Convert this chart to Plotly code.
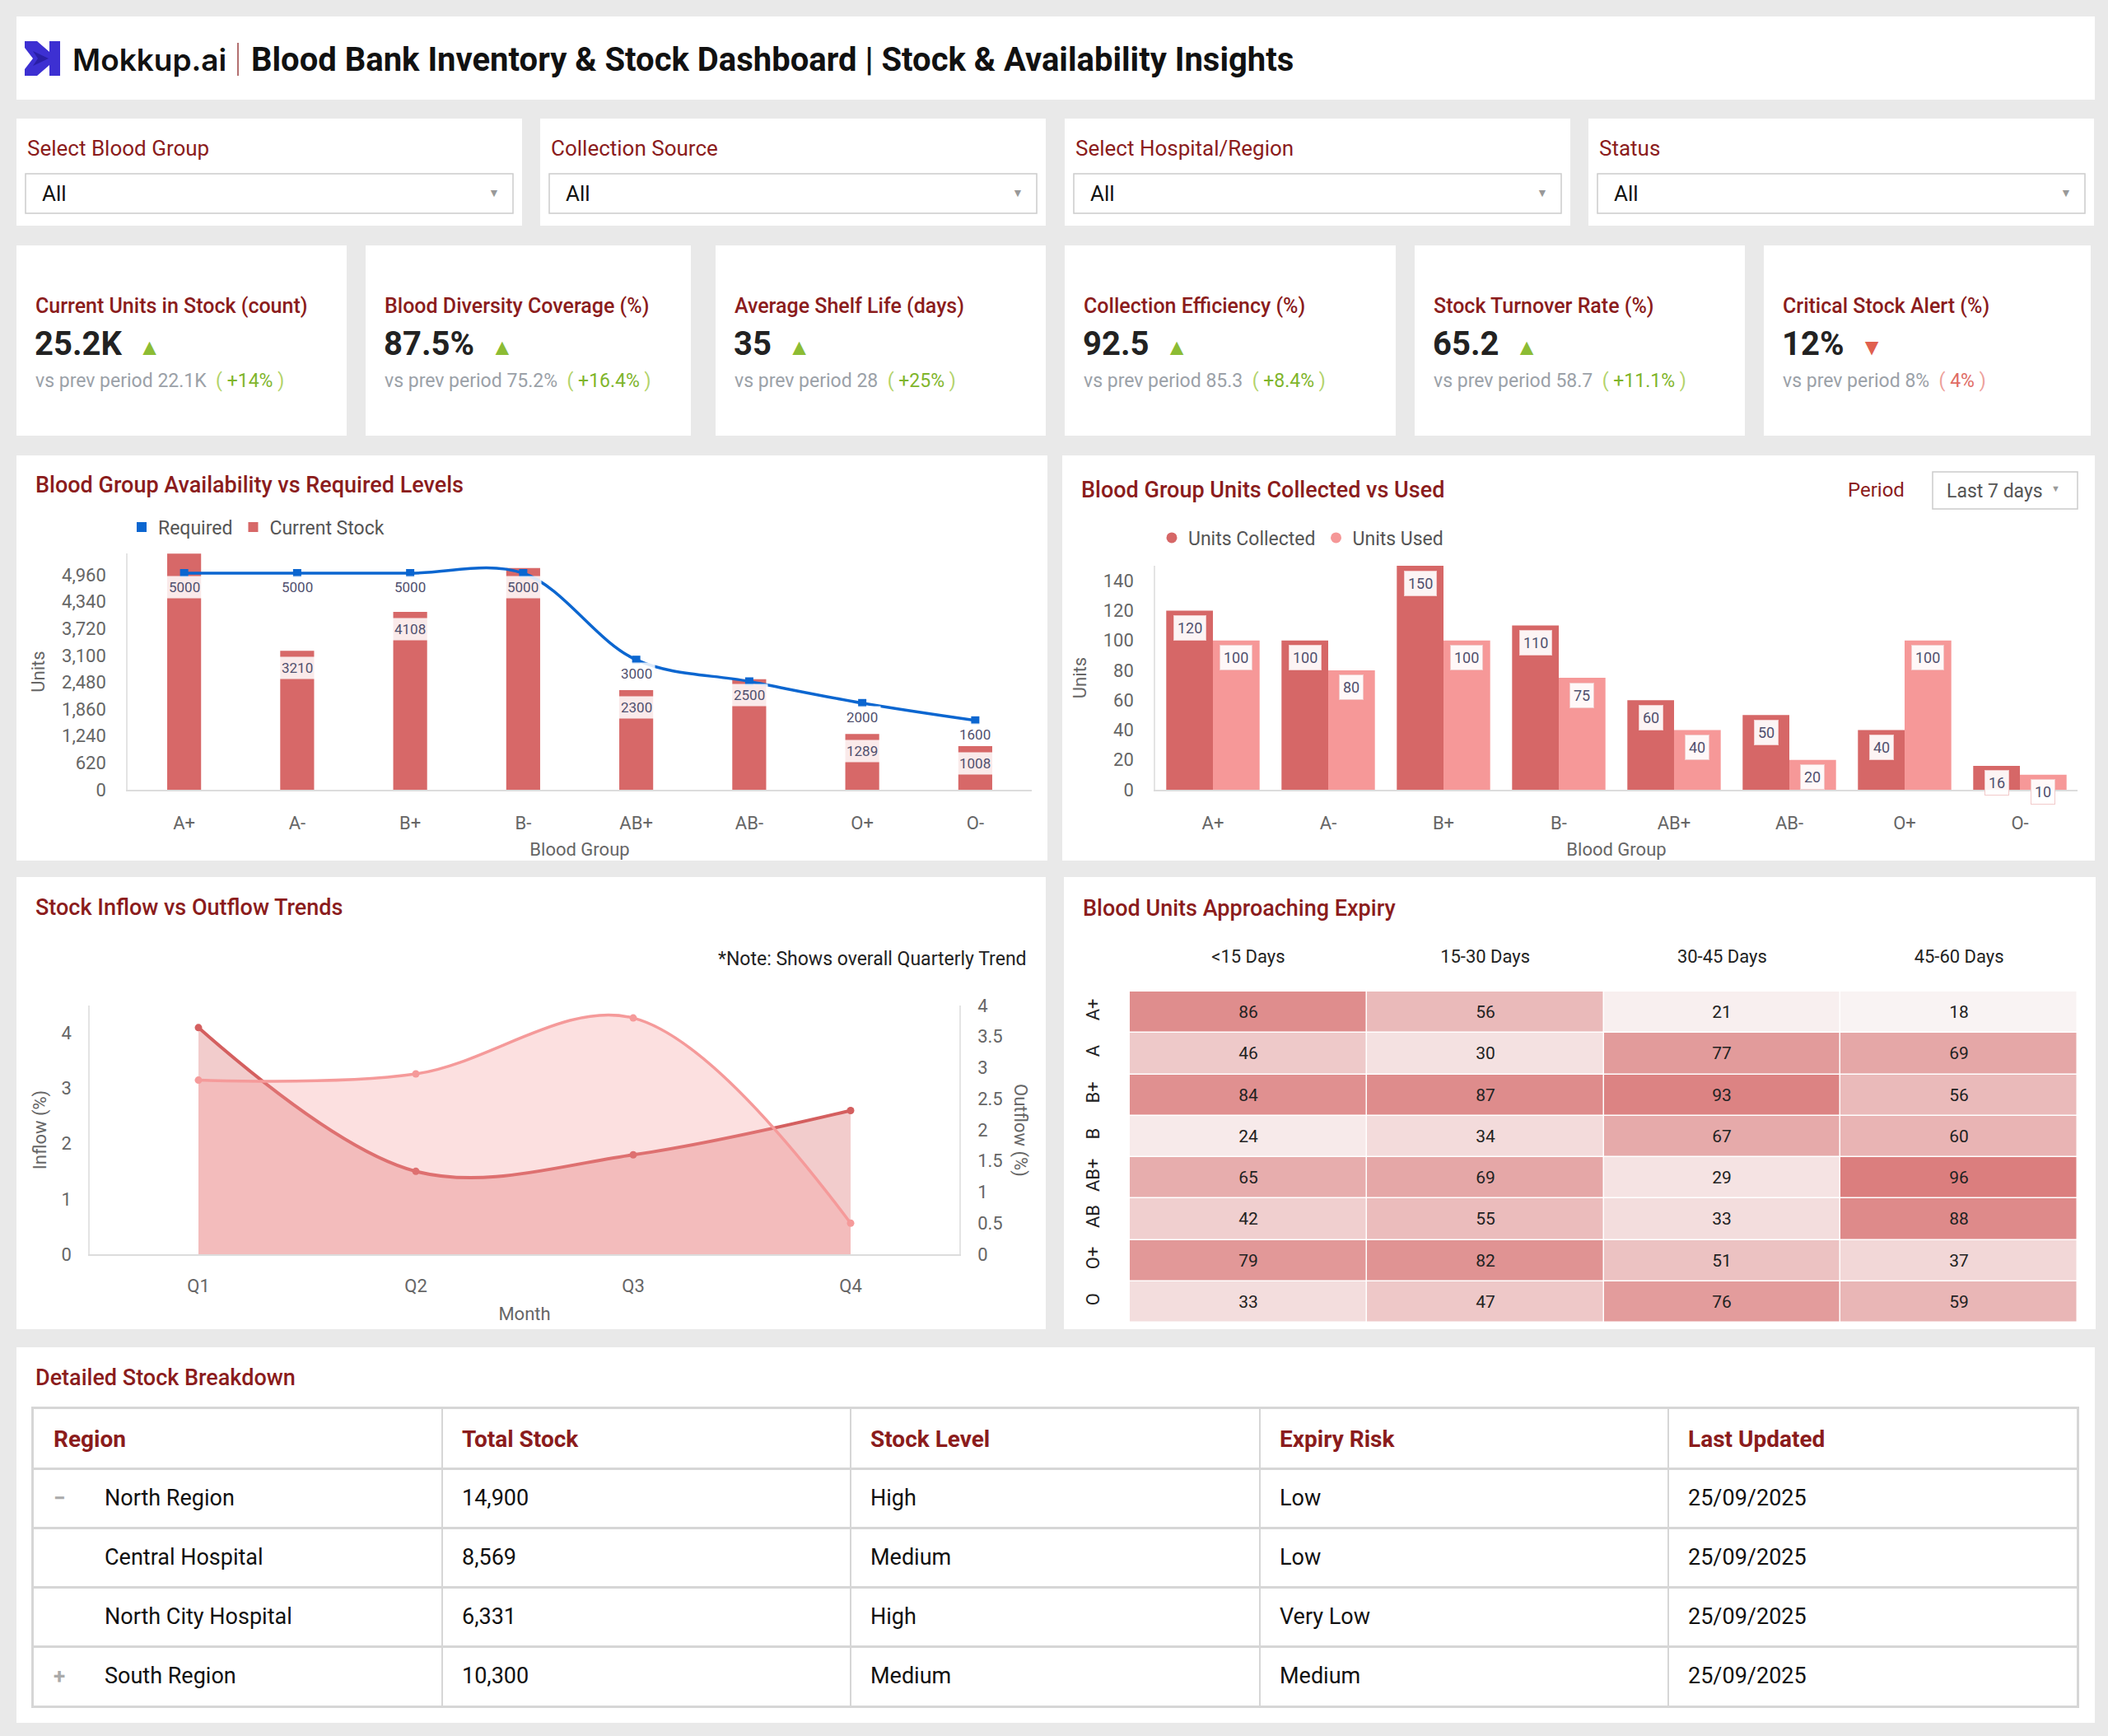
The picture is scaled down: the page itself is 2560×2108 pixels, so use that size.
import plotly.graph_objects as go

W, H = 2560, 2108
FONT = "Roboto"
RED_T = "#8b1c1c"
BG = "#e9e9e9"

# ---------------- data ----------------
filter_labels = ["Select Blood Group", "Collection Source", "Select Hospital/Region", "Status"]
filter_values = ["All", "All", "All", "All"]

kpi_titles = ["Current Units in Stock (count)", "Blood Diversity Coverage (%)", "Average Shelf Life (days)",
              "Collection Efficiency (%)", "Stock Turnover Rate (%)", "Critical Stock Alert (%)"]
kpi_values = ["25.2K", "87.5%", "35", "92.5", "65.2", "12%"]
kpi_dirs = ["up", "up", "up", "up", "up", "down"]
kpi_prev = ["22.1K", "75.2%", "28", "85.3", "58.7", "8%"]
kpi_change = ["+14%", "+16.4%", "+25%", "+8.4%", "+11.1%", "4%"]

blood_groups = ["A+", "A-", "B+", "B-", "AB+", "AB-", "O+", "O-"]
current_stock = [5450, 3210, 4108, 5120, 2300, 2550, 1289, 1008]
required_levels = [5000, 5000, 5000, 5000, 3000, 2500, 2000, 1600]

units_collected = [120, 100, 150, 110, 60, 50, 40, 16]
units_used = [100, 80, 100, 75, 40, 20, 100, 10]

quarters = ["Q1", "Q2", "Q3", "Q4"]
inflow = [4.1, 1.5, 1.8, 2.6]
outflow = [2.8, 2.9, 3.8, 0.5]

expiry_cols = ["<15 Days", "15-30 Days", "30-45 Days", "45-60 Days"]
expiry_rows = ["A+", "A", "B+", "B", "AB+", "AB", "O+", "O"]
expiry_units = [
    [86, 56, 21, 18],
    [46, 30, 77, 69],
    [84, 87, 93, 56],
    [24, 34, 67, 60],
    [65, 69, 29, 96],
    [42, 55, 33, 88],
    [79, 82, 51, 37],
    [33, 47, 76, 59],
]

table_cols = ["Region", "Total Stock", "Stock Level", "Expiry Risk", "Last Updated"]
regions = ["North Region", "Central Hospital", "North City Hospital", "South Region"]
region_toggle = ["−", "", "", "+"]
total_stock = [14900, 8569, 6331, 10300]
stock_level = ["High", "Medium", "High", "Medium"]
expiry_risk = ["Low", "Low", "Very Low", "Medium"]
last_updated = ["25/09/2025", "25/09/2025", "25/09/2025", "25/09/2025"]


# ---------------- helpers ----------------
def X(px):
    return px / W


def Y(py):
    return 1 - py / H


shapes, annotations = [], []


def card(x0, y0, x1, y1, fill="white", line=None):
    shapes.append(dict(type="rect", xref="paper", yref="paper", x0=X(x0), x1=X(x1), y0=Y(y1), y1=Y(y0),
                       fillcolor=fill, line=line or dict(width=0), layer="below"))


def text(x, y, s, size=22, color="#222", xanchor="left", weight=None, family=FONT, **kw):
    f = dict(size=size, color=color, family=family)
    if weight:
        f["weight"] = weight
    annotations.append(dict(xref="paper", yref="paper", x=X(x), y=Y(y), text=s, showarrow=False,
                            xanchor=xanchor, yanchor="middle", font=f, **kw))


def path(points):
    return "M" + " L".join(f"{X(px):.5f},{Y(py):.5f}" for px, py in points) + " Z"


# ---------------- header ----------------
card(20, 20, 2544, 121)
shapes.append(dict(type="path", xref="paper", yref="paper",
                   path=path([(30, 50), (45, 50), (60, 63), (60, 50), (73, 50), (73, 92), (60, 92), (60, 79),
                              (45, 92), (30, 92), (30, 84), (40, 71), (30, 58)]),
                   fillcolor="#3d30d2", line=dict(width=0)))
shapes.append(dict(type="path", xref="paper", yref="paper",
                   path=path([(40, 62), (59, 71), (40, 80), (46, 71)]),
                   fillcolor="#2a1fa6", line=dict(width=0)))
text(86, 72, "Mokkup.ai", 37, "#111", weight=600, family="Inter")
shapes.append(dict(type="line", xref="paper", yref="paper", x0=X(289), x1=X(289), y0=Y(52), y1=Y(92),
                   line=dict(color="#9a4040", width=1.5)))
text(303, 72, "Blood Bank Inventory & Stock Dashboard | Stock & Availability Insights", 40, "#111", weight=700)

# ---------------- filters ----------------
filter_x = [(20, 634), (656, 1270), (1293, 1907), (1929, 2543)]
for (x0, x1), lab, val in zip(filter_x, filter_labels, filter_values):
    card(x0, 144, x1, 274)
    text(x0 + 11, 180, lab, 26, RED_T)
    shapes.append(dict(type="rect", xref="paper", yref="paper", x0=X(x0 + 11), x1=X(x1 - 11), y0=Y(259), y1=Y(211),
                       fillcolor="white", line=dict(color="#cccccc", width=1.5)))
    text(x0 + 29, 235, val, 26, "#111")
    text(x1 - 34, 234, "▼", 14, "#999", xanchor="center")

# ---------------- KPI cards ----------------
kpi_x = [(20, 421), (444, 839), (869, 1270), (1293, 1695), (1718, 2119), (2142, 2539)]
for (x0, x1), t, v, d, p, c in zip(kpi_x, kpi_titles, kpi_values, kpi_dirs, kpi_prev, kpi_change):
    card(x0, 298, x1, 529)
    text(x0 + 21, 371, t, 25, RED_T, weight=500)
    if d == "up":
        arrow = "<span style='color:#8cbc34;font-size:28px'>▲</span>"
        col, light = "#7fb52c", "#b3d36a"
    else:
        arrow = "<span style='color:#e0604f;font-size:28px'>▼</span>"
        col, light = "#e06b64", "#eda19b"
    text(x0 + 20, 418, f"<b>{v}</b>&nbsp;&nbsp;{arrow}", 40, "#222")
    text(x0 + 21, 463,
         f"vs prev period {p} &nbsp;<span style='color:{light}'>(</span> <span style='color:{col}'>{c}</span> "
         f"<span style='color:{light}'>)</span>", 23, "#9ba1a8")

# ---------------- chart cards ----------------
card(20, 553, 1272, 1045)
card(1290, 553, 2544, 1045)
card(20, 1065, 1270, 1614)
card(1292, 1065, 2545, 1614)
card(20, 1636, 2544, 2092)

text(41, 589, "Blood Group Availability vs Required Levels", 27, RED_T, weight=500)
text(1311, 595, "Blood Group Units Collected vs Used", 27, RED_T, weight=500)
text(41, 1102, "Stock Inflow vs Outflow Trends", 27, RED_T, weight=500)
text(1313, 1103, "Blood Units Approaching Expiry", 27, RED_T, weight=500)
text(41, 1673, "Detailed Stock Breakdown", 27, RED_T, weight=500)

# period selector
text(2315, 595, "Period", 24, RED_T, xanchor="right")
shapes.append(dict(type="rect", xref="paper", yref="paper", x0=X(2347), x1=X(2523), y0=Y(618), y1=Y(573),
                   fillcolor="white", line=dict(color="#cccccc", width=1.5)))
text(2362, 596, "Last 7 days", 23, "#555")
text(2496, 594, "▼", 11, "#999", xanchor="center")

# note
text(1249, 1164, "*Note: Shows overall Quarterly Trend", 23, "#222", xanchor="right")

fig = go.Figure()

tickfont = dict(size=22, color="#666", family=FONT)
titlefont = dict(size=22, color="#666", family=FONT)

# ---------------- chart 1 ----------------
fig.add_trace(go.Scatter(x=[None], y=[None], mode="markers", name="Required",
                         marker=dict(symbol="square", size=12, color="#0b66d0"),
                         xaxis="x", yaxis="y", legend="legend"))
fig.add_trace(go.Bar(x=blood_groups, y=current_stock, name="Current Stock", width=0.3,
                     marker=dict(color="#d76868", line=dict(width=0)), xaxis="x", yaxis="y", legend="legend"))
fig.add_trace(go.Scatter(x=blood_groups, y=required_levels, mode="lines+markers", showlegend=False,
                         line=dict(color="#0b66d0", width=3.5, shape="spline", smoothing=1),
                         marker=dict(symbol="square", size=10, color="#0b66d0"), xaxis="x", yaxis="y"))

Y1_MAX = 5456
k1 = (959 - 672) / Y1_MAX  # px per unit
lab_bg = "rgba(255,255,255,0.86)"
for g, s, r in zip(blood_groups, current_stock, required_levels):
    annotations.append(dict(xref="x", yref="y", x=g, y=r, yshift=-17, text=str(r), showarrow=False,
                            font=dict(size=17, color="#50506e", family=FONT), bgcolor=lab_bg, borderpad=3))
    if abs((s - r) * k1 - 5) >= 27:
        annotations.append(dict(xref="x", yref="y", x=g, y=s, yshift=-21, text=str(s), showarrow=False,
                                font=dict(size=17, color="#50506e", family=FONT), bgcolor=lab_bg, borderpad=3))

# ---------------- chart 2 ----------------
fig.add_trace(go.Scatter(x=[None], y=[None], mode="markers", name="Units Collected",
                         marker=dict(symbol="circle", size=13, color="#d66767"),
                         xaxis="x2", yaxis="y2", legend="legend2"))
fig.add_trace(go.Scatter(x=[None], y=[None], mode="markers", name="Units Used",
                         marker=dict(symbol="circle", size=13, color="#f59797"),
                         xaxis="x2", yaxis="y2", legend="legend2"))
fig.add_trace(go.Bar(x=blood_groups, y=units_collected, name="Units Collected", showlegend=False,
                     marker=dict(color="#d66767", line=dict(width=0)), xaxis="x2", yaxis="y2",
                     offsetgroup="c"))
fig.add_trace(go.Bar(x=blood_groups, y=units_used, name="Units Used", showlegend=False,
                     marker=dict(color="#f69898", line=dict(width=0)), xaxis="x2", yaxis="y2",
                     offsetgroup="u"))
for g, c, u in zip(blood_groups, units_collected, units_used):
    for v, sh in ((c, -28), (u, 28)):
        annotations.append(dict(xref="x2", yref="y2", x=g, y=v, xshift=sh, yshift=-21, text=str(v),
                                showarrow=False, font=dict(size=18, color="#50506e", family=FONT),
                                bgcolor="rgba(255,255,255,0.93)", bordercolor="#f2caca", borderwidth=1,
                                borderpad=4))

# ---------------- chart 3 ----------------
fig.add_trace(go.Scatter(x=quarters, y=inflow, name="Inflow", showlegend=False, mode="lines+markers",
                         fill="tozeroy", fillcolor="rgba(214,96,96,0.32)",
                         line=dict(color="#d45f5f", width=4, shape="spline", smoothing=1),
                         marker=dict(size=9, color="#d45f5f"), xaxis="x3", yaxis="y3"))
fig.add_trace(go.Scatter(x=quarters, y=outflow, name="Outflow", showlegend=False, mode="lines+markers",
                         fill="tozeroy", fillcolor="rgba(245,151,151,0.30)",
                         line=dict(color="#f59a9a", width=3.5, shape="spline", smoothing=1),
                         marker=dict(size=9, color="#f59a9a"), xaxis="x3", yaxis="y4"))
annotations.append(dict(xref="paper", yref="paper", x=X(1239), y=Y(1372), text="Outflow (%)", textangle=90,
                        showarrow=False, xanchor="center", yanchor="middle", font=titlefont))

# ---------------- chart 4 (heatmap) ----------------
fig.add_trace(go.Heatmap(z=expiry_units, x=expiry_cols, y=expiry_rows, xaxis="x5", yaxis="y5",
                         colorscale=[[0, "#f9f3f3"], [1, "#db7e7e"]], zmin=18, zmax=96, showscale=False,
                         xgap=1.5, ygap=1.5, texttemplate="%{z}",
                         textfont=dict(size=21, color="#222", family=FONT), hoverinfo="skip"))

# ---------------- table ----------------
fig.add_trace(go.Scatter(x=[0, 5], y=[0, 5], mode="markers", marker=dict(opacity=0), showlegend=False,
                         hoverinfo="skip", xaxis="x6", yaxis="y6"))
for ci, cname in enumerate(table_cols):
    annotations.append(dict(xref="x6", yref="y6", x=ci, y=0.5, xshift=22, text=f"<b>{cname}</b>",
                            showarrow=False, xanchor="left", yanchor="middle",
                            font=dict(size=28, color=RED_T, family=FONT)))
rows = list(zip(regions, region_toggle, total_stock, stock_level, expiry_risk, last_updated))
for ri, (reg, tog, tot, lvl, risk, upd) in enumerate(rows):
    yv = ri + 1.5
    if tog:
        annotations.append(dict(xref="x6", yref="y6", x=0, y=yv, xshift=22, text=f"<b>{tog}</b>",
                                showarrow=False, xanchor="left", yanchor="middle",
                                font=dict(size=26, color="#aaaaaa", family=FONT)))
    cells = [reg, f"{tot:,}", lvl, risk, upd]
    for ci, val in enumerate(cells):
        annotations.append(dict(xref="x6", yref="y6", x=ci, y=yv, xshift=(84 if ci == 0 else 22), text=val,
                                showarrow=False, xanchor="left", yanchor="middle",
                                font=dict(size=27, color="#111", family=FONT)))

# ---------------- layout ----------------
grid_none = dict(showgrid=False, zeroline=False)
fig.update_layout(
    width=W, height=H, margin=dict(l=0, r=0, t=0, b=0, pad=0, autoexpand=False),
    paper_bgcolor=BG, plot_bgcolor="white",
    font=dict(family=FONT, color="#444"),
    barmode="group", bargap=0.19, bargroupgap=0,
    shapes=shapes, annotations=annotations,
    legend=dict(x=X(152), y=Y(640), xanchor="left", yanchor="middle", orientation="h",
                font=dict(size=23, color="#555", family=FONT), bgcolor="rgba(0,0,0,0)", itemclick=False,
                itemwidth=30),
    legend2=dict(x=X(1403), y=Y(653), xanchor="left", yanchor="middle", orientation="h",
                 font=dict(size=23, color="#555", family=FONT), bgcolor="rgba(0,0,0,0)", itemclick=False,
                 itemwidth=30),
    xaxis=dict(domain=[X(155), X(1253)], anchor="y", type="category", showline=True, linecolor="#dcdcdc",
               linewidth=2, ticks="", tickfont=tickfont, ticklabelstandoff=20,
               title=dict(text="Blood Group", font=titlefont, standoff=12), **grid_none),
    yaxis=dict(domain=[Y(959), Y(672)], anchor="x", range=[0, Y1_MAX],
               tickvals=[620 * i for i in range(9)], tickformat=",", showline=True, linecolor="#e4e4e4",
               linewidth=1.5, ticks="", tickfont=tickfont, ticklabelstandoff=20,
               title=dict(text="Units", font=titlefont, standoff=14), **grid_none),
    xaxis2=dict(domain=[X(1403), X(2523)], anchor="y2", type="category", showline=True, linecolor="#dcdcdc",
                linewidth=2, ticks="", tickfont=tickfont, ticklabelstandoff=20,
                title=dict(text="Blood Group", font=titlefont, standoff=12), **grid_none),
    yaxis2=dict(domain=[Y(959), Y(687)], anchor="x2", range=[0, 150], dtick=20, showline=True,
                linecolor="#e4e4e4", linewidth=1.5, ticks="", tickfont=tickfont, ticklabelstandoff=20,
                title=dict(text="Units", font=titlefont, standoff=14), **grid_none),
    xaxis3=dict(domain=[X(109), X(1165)], anchor="y3", type="category", range=[-0.5, 3.5],
                showline=True, linecolor="#dcdcdc",
                linewidth=2, ticks="", tickfont=tickfont, ticklabelstandoff=18,
                title=dict(text="Month", font=titlefont, standoff=14), **grid_none),
    yaxis3=dict(domain=[Y(1523), Y(1221)], anchor="x3", range=[0, 4.5], tickvals=[0, 1, 2, 3, 4],
                showline=True, linecolor="#e4e4e4", linewidth=1.5, ticks="", tickfont=tickfont,
                ticklabelstandoff=16, title=dict(text="Inflow (%)", font=titlefont, standoff=12), **grid_none),
    yaxis4=dict(overlaying="y3", side="right", anchor="x3", range=[0, 4],
                tickvals=[0, 0.5, 1, 1.5, 2, 2.5, 3, 3.5, 4],
                ticktext=["0", "0.5", "1", "1.5", "2", "2.5", "3", "3.5", "4"],
                showline=True, linecolor="#e4e4e4", linewidth=1.5, ticks="", tickfont=tickfont,
                ticklabelstandoff=16, **grid_none),
    xaxis5=dict(domain=[X(1372), X(2523)], anchor="y5", side="top", type="category", showline=False, ticks="",
                tickfont=dict(size=22, color="#222", family=FONT), ticklabelstandoff=30, **grid_none),
    yaxis5=dict(domain=[Y(1606), Y(1204)], anchor="x5", type="category", autorange="reversed",
                showline=False, ticks="", tickangle=-90,
                tickfont=dict(size=22, color="#222", family=FONT), ticklabelstandoff=32, **grid_none),
    xaxis6=dict(domain=[X(41), X(2522)], anchor="y6", range=[0, 5], tickvals=[0, 1, 2, 3, 4, 5],
                showticklabels=False, ticks="", showgrid=True, gridcolor="#d6d6d6", gridwidth=2,
                zeroline=False, showline=True, mirror=True, linecolor="#d6d6d6", linewidth=2.5),
    yaxis6=dict(domain=[Y(2071), Y(1711)], anchor="x6", range=[5, 0], tickvals=[0, 1, 2, 3, 4, 5],
                showticklabels=False, ticks="", showgrid=True, gridcolor="#d6d6d6", gridwidth=2.5,
                zeroline=False, showline=True, mirror=True, linecolor="#d6d6d6", linewidth=2.5),
)

fig.write_html("out.html",
               post_script="document.documentElement.style.margin='0';"
                           "document.documentElement.style.overflow='hidden';"
                           "document.body.style.margin='0';document.body.style.padding='0';"
                           "document.body.style.overflow='hidden';")
